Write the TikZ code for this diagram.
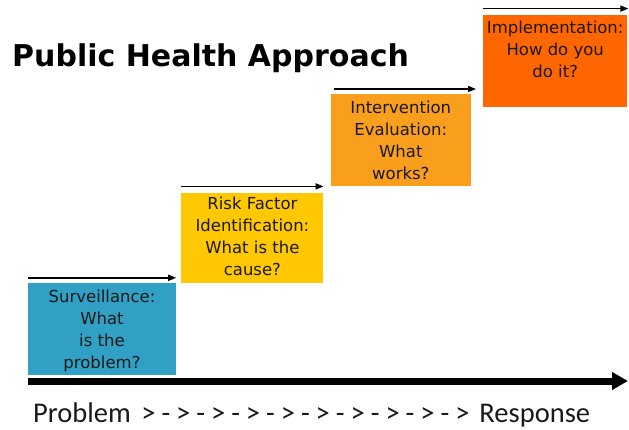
\documentclass[tikz,border=0pt]{standalone}
\usepackage{fontspec}
\setmainfont{DejaVu Sans}
\newfontfamily\scalefont{Carlito}
\usetikzlibrary{positioning, arrows.meta}
\definecolor{surv-blue}{RGB}{48,160,196}
\definecolor{risk-yellow}{RGB}{255,200,0}
\definecolor{eval-orange}{RGB}{250,158,30}
\definecolor{impl-orange}{RGB}{255,102,0}

\begin{document}
\begin{tikzpicture}
    [x=1pt, y=-1pt,
    box/.style = {rectangle, inner sep=0pt, minimum width=143pt, minimum height=91pt},
    boxtext/.style = {align=center, inner sep=0pt, text=black!90, 
            font=\fontsize{16.5}{22}\selectfont},
    steparrow/.style = {-{Triangle[length=8pt, width=6pt]}, line width=1.5pt},
    axisarrow/.style = {-{Triangle[length=16pt, width=17pt]}, line width=7pt},
    ]
    \useasboundingbox (0,0) rectangle (629,430);
    
    \node[anchor=base west, inner sep=0pt, font=\bfseries\fontsize{30}{36}\selectfont] (title) at (12,67) {Public Health Approach};
    
    
    \node[box, minimum width=148pt, minimum height=92pt, fill=surv-blue] (surv) at (102,329) {};
    \node[box, minimum width=142pt, minimum height=90pt, above right=0pt and 5pt of surv, fill=risk-yellow] (risk) {};
    \node[box, minimum width=140pt, minimum height=92pt, above right=6pt and 7pt of risk, fill=eval-orange] (eval) {};
    \node[box, minimum width=144pt, minimum height=92pt, above right=-13pt and 12pt of eval, fill=impl-orange] (impl) {};
    
    \node[boxtext, below=7pt of surv.north] (surv-text) {Surveillance:\\What\\is the\\problem?};
    \node[boxtext, below=4pt of risk.north] (risk-text) {Risk Factor\\Identification:\\What is the\\cause?};
    \node[boxtext, below=7pt of eval.north] (eval-text) {Intervention\\Evaluation:\\What\\works?};
    \node[boxtext, below=6pt of impl.north] (impl-text) {Implementation:\\How do you\\do it?};
    
    
    \draw[steparrow] ([yshift=5pt]surv.north west) -- ([yshift=5pt]surv.north east);
    \draw[steparrow] ([yshift=6pt]risk.north west) -- ([yshift=6pt]risk.north east);
    \draw[steparrow] ([xshift=3pt, yshift=5pt]eval.north west) -- ([xshift=5pt, yshift=5pt]eval.north east);
    \draw[steparrow] ([yshift=6pt]impl.north west) -- ([xshift=1pt, yshift=6pt]impl.north east);
    
    
    \coordinate (axis-start) at (28,381);
    \coordinate (axis-end) at (628,381);
    \draw[axisarrow] (axis-start) -- (axis-end);
    
    \node[anchor=base west, inner sep=0pt, text=black!90, font=\scalefont\fontsize{28.5}{34}\selectfont] (scale-label) at (33,422) 
        {Problem\kern4pt{} {\addfontfeature{LetterSpace=21}>->->->->->->->->->}\kern10pt Response};
\end{tikzpicture}
\end{document}
